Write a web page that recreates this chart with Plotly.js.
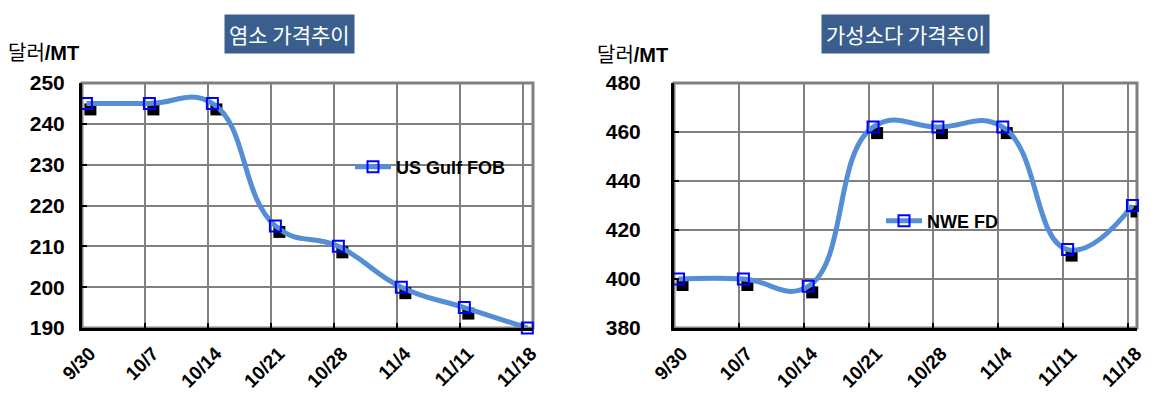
<!DOCTYPE html>
<html><head><meta charset="utf-8">
<script src="https://cdn.plot.ly/plotly-3.0.1.min.js"></script>
<style>html,body{margin:0;padding:0;background:#fff;overflow:hidden;} #chart{width:1158px;height:404px;}</style>
</head><body><div id="chart"></div>
<script>
// ---- data ----
const dates = ['9/30','10/7','10/14','10/21','10/28','11/4','11/11','11/18'];
const weekIndex = [0,1,2,3,4,5,6,7];
const chlorinePrice = [245,245,245,215,210,200,195,190];
const causticPrice = [400,400,397,462,462,462,412,430];
const chlorineName = 'US Gulf FOB';
const causticName = 'NWE FD';
const leftTitle = '염소 가격추이';
const rightTitle = '가성소다 가격추이';
const unitLabel = '달러<b>/MT</b>';

// ---- layout helpers ----
const W = 1158, H = 404;
const px = v => v / W;
const py = v => 1 - v / H;
const POINT_SHIFT = 0.07;
const xs = weekIndex.map(i => i + POINT_SHIFT);

const lineColor = '#558ED5';
const gridColor = '#808080';
const latin = 'Liberation Sans, Arial, sans-serif';
const kr = 'Noto Sans CJK KR, sans-serif';

function xAxis(domain, rangeMax, anchor) {
  return {
    domain: domain, range: [0, rangeMax], anchor: anchor,
    tickmode: 'array', tickvals: weekIndex, ticktext: dates, tickangle: -45,
    showgrid: true, gridcolor: gridColor, gridwidth: 2,
    showline: true, linecolor: '#000', linewidth: 3,
    ticks: 'inside', ticklen: 5, tickwidth: 2, tickcolor: '#000',
    tickfont: {family: latin, size: 19, weight: 'bold', color: '#000'},
    ticklabelstandoff: 4, ticklabelshift: 8,
    zeroline: false, fixedrange: true
  };
}
function yAxis(domain, range, dtick, anchor, standoff) {
  return {
    domain: domain, range: range, dtick: dtick, anchor: anchor,
    showgrid: true, gridcolor: gridColor, gridwidth: 2,
    showline: true, linecolor: '#000', linewidth: 3,
    ticks: 'inside', ticklen: 5, tickwidth: 2, tickcolor: '#000',
    tickfont: {family: latin, size: 21, weight: 'bold', color: '#000'},
    ticklabelstandoff: standoff,
    zeroline: false, fixedrange: true
  };
}

function seriesTrace(x, y, name, xa, ya, legend) {
  return {
    type: 'scatter', mode: 'lines+markers', x: x, y: y, name: name,
    xaxis: xa, yaxis: ya, legend: legend, cliponaxis: false,
    line: {color: lineColor, width: 5, shape: 'spline', smoothing: 1.3},
    marker: {symbol: 'square-open', size: 11, color: '#0000FF', line: {width: 2, color: '#0000FF'}}
  };
}

function shadows(x, y, xref, yref) {
  return x.map((xv, i) => ({
    type: 'rect', xref: xref, yref: yref, layer: 'between',
    xsizemode: 'pixel', ysizemode: 'pixel', xanchor: xv, yanchor: y[i],
    x0: -2, x1: 10, y0: -12, y1: 0,
    fillcolor: '#000', line: {width: 0}
  }));
}

const L = {x0: 82, x1: 533, y0: 83, y1: 328};
const R = {x0: 674, x1: 1137, y0: 83, y1: 328};

const traces = [
  seriesTrace(xs, chlorinePrice, chlorineName, 'x', 'y', 'legend'),
  seriesTrace(xs, causticPrice, causticName, 'x2', 'y2', 'legend2')
];

function border(b) {
  return {type: 'rect', xref: 'paper', yref: 'paper', layer: 'below',
    x0: px(b.x0), x1: px(b.x1), y0: py(b.y1), y1: py(b.y0),
    line: {color: gridColor, width: 3}, fillcolor: 'rgba(0,0,0,0)'};
}

const legendFont = {family: latin, size: 18, weight: 'bold', color: '#000'};

const layout = {
  width: W, height: H, margin: {l: 0, r: 0, t: 0, b: 0},
  paper_bgcolor: '#fff', plot_bgcolor: '#fff',
  showlegend: true,
  xaxis: xAxis([px(L.x0), px(L.x1)], 7.16, 'y'),
  yaxis: yAxis([py(L.y1), py(L.y0)], [190, 250], 10, 'x', 10),
  xaxis2: xAxis([px(R.x0), px(R.x1)], 7.14, 'y2'),
  yaxis2: yAxis([py(R.y1), py(R.y0)], [380, 480], 20, 'x2', 26),
  legend: {x: px(350), y: py(167), xanchor: 'left', yanchor: 'middle',
    bgcolor: 'rgba(0,0,0,0)', font: legendFont, itemwidth: 36},
  legend2: {x: px(881), y: py(221), xanchor: 'left', yanchor: 'middle',
    bgcolor: 'rgba(0,0,0,0)', font: legendFont, itemwidth: 36},
  shapes: [border(L), border(R)]
    .concat(shadows(xs, chlorinePrice, 'x', 'y'))
    .concat(shadows(xs, causticPrice, 'x2', 'y2')),
  annotations: [
    {text: leftTitle, xref: 'paper', yref: 'paper', x: px(289), y: py(34),
     xanchor: 'center', yanchor: 'middle', showarrow: false,
     bgcolor: '#3A5F8E', borderpad: 4, font: {family: kr, size: 21, color: '#fff'}},
    {text: rightTitle, xref: 'paper', yref: 'paper', x: px(905), y: py(34),
     xanchor: 'center', yanchor: 'middle', showarrow: false,
     bgcolor: '#3A5F8E', borderpad: 4, font: {family: kr, size: 21, color: '#fff'}},
    {text: unitLabel, xref: 'paper', yref: 'paper', x: px(6), y: py(53),
     xanchor: 'left', yanchor: 'middle', showarrow: false,
     font: {family: latin + ', ' + kr, size: 20, color: '#000'}},
    {text: unitLabel, xref: 'paper', yref: 'paper', x: px(595), y: py(55),
     xanchor: 'left', yanchor: 'middle', showarrow: false,
     font: {family: latin + ', ' + kr, size: 20, color: '#000'}}
  ]
};

Plotly.newPlot('chart', traces, layout, {staticPlot: true, displayModeBar: false});
</script>
</body></html>
